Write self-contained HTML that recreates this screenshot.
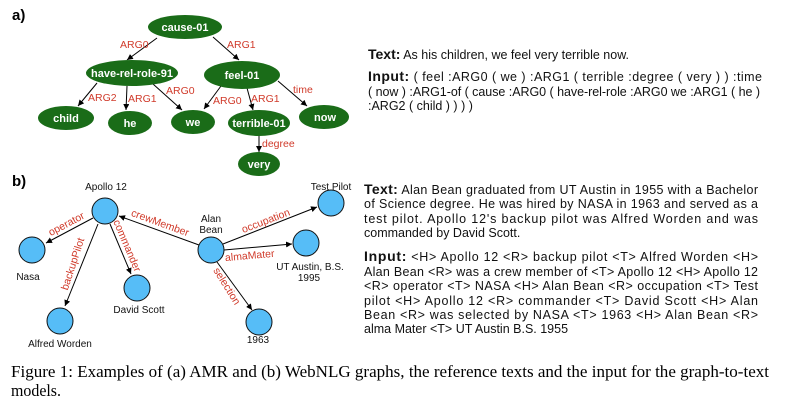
<!DOCTYPE html>
<html><head><meta charset="utf-8">
<style>
html,body{margin:0;padding:0;background:#fff;}
svg{display:block;}
.nl{font-family:"Liberation Sans",Arial,sans-serif;font-weight:bold;font-size:11px;fill:#fff;text-anchor:middle;}
.el{font-family:"Liberation Sans",Arial,sans-serif;font-size:10.5px;fill:#d03a2a;}
.cl{font-family:"Liberation Sans",Arial,sans-serif;font-size:10px;fill:#111;text-anchor:middle;}
.tx{font-family:"Liberation Sans",Arial,sans-serif;font-size:12.5px;fill:#111;}
.cap{font-family:"Liberation Serif","Times New Roman",serif;font-size:16.5px;fill:#000;}
</style></head><body>
<svg width="799" height="406" viewBox="0 0 799 406" xmlns="http://www.w3.org/2000/svg">
<defs><marker id="ah" markerWidth="7" markerHeight="7" refX="6" refY="3" orient="auto"><path d="M0,0 L6,3 L0,6 Z" fill="#000"/></marker></defs>

<text x="12" y="20" font-family="Liberation Sans,Arial,sans-serif" font-weight="bold" font-size="15">a)</text>
<g stroke="#000" stroke-width="1" marker-end="url(#ah)">
<line x1="157" y1="38" x2="127" y2="60"/>
<line x1="213" y1="37" x2="239" y2="60"/>
<line x1="97" y1="83" x2="78" y2="106"/>
<line x1="127" y1="86" x2="126" y2="110"/>
<line x1="153" y1="84" x2="182" y2="110"/>
<line x1="221" y1="86" x2="204" y2="109"/>
<line x1="247" y1="88" x2="253" y2="110"/>
<line x1="278" y1="81" x2="307" y2="106"/>
<line x1="259" y1="136" x2="259" y2="152"/>
</g>
<g fill="#1a6c18">
<ellipse cx="185" cy="27" rx="37" ry="12"/>
<ellipse cx="132" cy="73" rx="46" ry="13"/>
<ellipse cx="242" cy="75" rx="38" ry="14"/>
<ellipse cx="66" cy="118" rx="28" ry="12"/>
<ellipse cx="130" cy="123" rx="22" ry="12"/>
<ellipse cx="193" cy="122" rx="22" ry="12"/>
<ellipse cx="259" cy="123" rx="31" ry="13"/>
<ellipse cx="324" cy="117" rx="25" ry="12"/>
<ellipse cx="259" cy="164" rx="21" ry="12"/>
</g>
<g>
<text class="nl" x="185" y="31">cause-01</text>
<text class="nl" x="132" y="77">have-rel-role-91</text>
<text class="nl" x="242" y="79">feel-01</text>
<text class="nl" x="66" y="122">child</text>
<text class="nl" x="130" y="127">he</text>
<text class="nl" x="193" y="126">we</text>
<text class="nl" x="259" y="127">terrible-01</text>
<text class="nl" x="325" y="121">now</text>
<text class="nl" x="259" y="168">very</text>
</g>
<g>
<text class="el" x="120" y="48">ARG0</text>
<text class="el" x="227" y="48">ARG1</text>
<text class="el" x="88" y="101">ARG2</text>
<text class="el" x="128" y="102">ARG1</text>
<text class="el" x="166" y="94">ARG0</text>
<text class="el" x="213" y="104">ARG0</text>
<text class="el" x="251" y="102">ARG1</text>
<text class="el" x="293" y="93">time</text>
<text class="el" x="262" y="147">degree</text>
</g>

<text x="12" y="186" font-family="Liberation Sans,Arial,sans-serif" font-weight="bold" font-size="15">b)</text>
<g stroke="#000" stroke-width="1" marker-end="url(#ah)">
<line x1="93" y1="218" x2="46" y2="243"/>
<line x1="98" y1="224" x2="65" y2="306"/>
<line x1="110" y1="224" x2="131" y2="274"/>
<line x1="199" y1="245" x2="119" y2="216"/>
<line x1="223" y1="244" x2="317" y2="207"/>
<line x1="224" y1="250" x2="292" y2="244"/>
<line x1="217" y1="262" x2="252" y2="310"/>
</g>
<g fill="#56bdf7" stroke="#111" stroke-width="1">
<circle cx="105" cy="211" r="13"/>
<circle cx="32" cy="250" r="13"/>
<circle cx="60" cy="321" r="13"/>
<circle cx="137" cy="288" r="13"/>
<circle cx="211" cy="250" r="13"/>
<circle cx="331" cy="203" r="13"/>
<circle cx="306" cy="243" r="13"/>
<circle cx="259" cy="322" r="13"/>
</g>
<g>
<text class="cl" x="106" y="190">Apollo 12</text>
<text class="cl" x="28" y="280">Nasa</text>
<text class="cl" x="60" y="347">Alfred Worden</text>
<text class="cl" x="139" y="313">David Scott</text>
<text class="cl" x="211" y="222">Alan</text>
<text class="cl" x="211" y="233">Bean</text>
<text class="cl" x="331" y="190">Test Pilot</text>
<text class="cl" x="310" y="270">UT Austin, B.S.</text>
<text class="cl" x="309" y="281">1995</text>
<text class="cl" x="258" y="343">1963</text>
</g>
<g text-anchor="middle">
<text class="el" transform="translate(159,226) rotate(20)">crewMember</text>
<text class="el" transform="translate(68,227) rotate(-28)">operator</text>
<text class="el" transform="translate(76,265) rotate(-72)">backupPilot</text>
<text class="el" transform="translate(124,247) rotate(67)">commander</text>
<text class="el" transform="translate(267,224) rotate(-21)">occupation</text>
<text class="el" transform="translate(250,259) rotate(-5)">almaMater</text>
<text class="el" transform="translate(224,288) rotate(58)">selection</text>
</g>

<g>
<text class="tx" x="368" y="59"><tspan font-weight="bold" font-size="14">Text:</tspan> As his children, we feel very terrible now.</text>
<text class="tx" x="368" y="81" textLength="394" lengthAdjust="spacing"><tspan font-weight="bold" font-size="14">Input:</tspan> ( feel :ARG0 ( we ) :ARG1 ( terrible :degree ( very ) ) :time</text>
<text class="tx" x="368" y="96" textLength="392" lengthAdjust="spacing">( now ) :ARG1-of ( cause :ARG0 ( have-rel-role :ARG0 we :ARG1 ( he )</text>
<text class="tx" x="368" y="110">:ARG2 ( child ) ) ) )</text>
</g>
<g>
<text class="tx" x="364" y="194" textLength="394" lengthAdjust="spacing"><tspan font-weight="bold" font-size="14">Text:</tspan> Alan Bean graduated from UT Austin in 1955 with a Bachelor</text>
<text class="tx" x="364" y="208" textLength="394" lengthAdjust="spacing">of Science degree. He was hired by NASA in 1963 and served as a</text>
<text class="tx" x="364" y="223" textLength="394" lengthAdjust="spacing">test pilot. Apollo 12's backup pilot was Alfred Worden and was</text>
<text class="tx" x="364" y="237">commanded by David Scott.</text>
<text class="tx" x="364" y="261" textLength="394" lengthAdjust="spacing"><tspan font-weight="bold" font-size="14">Input:</tspan> &lt;H&gt; Apollo 12 &lt;R&gt; backup pilot &lt;T&gt; Alfred Worden &lt;H&gt;</text>
<text class="tx" x="364" y="276" textLength="394" lengthAdjust="spacing">Alan Bean &lt;R&gt; was a crew member of &lt;T&gt; Apollo 12 &lt;H&gt; Apollo 12</text>
<text class="tx" x="364" y="290" textLength="394" lengthAdjust="spacing">&lt;R&gt; operator &lt;T&gt; NASA &lt;H&gt; Alan Bean &lt;R&gt; occupation &lt;T&gt; Test</text>
<text class="tx" x="364" y="305" textLength="394" lengthAdjust="spacing">pilot &lt;H&gt; Apollo 12 &lt;R&gt; commander &lt;T&gt; David Scott &lt;H&gt; Alan</text>
<text class="tx" x="364" y="319" textLength="394" lengthAdjust="spacing">Bean &lt;R&gt; was selected by NASA &lt;T&gt; 1963 &lt;H&gt; Alan Bean &lt;R&gt;</text>
<text class="tx" x="364" y="333">alma Mater &lt;T&gt; UT Austin B.S. 1955</text>
</g>
<g>
<text class="cap" x="11" y="377" textLength="758" lengthAdjust="spacingAndGlyphs">Figure 1: Examples of (a) AMR and (b) WebNLG graphs, the reference texts and the input for the graph-to-text</text>
<text class="cap" x="11" y="396" textLength="50" lengthAdjust="spacingAndGlyphs">models.</text>
</g>
</svg>
</body></html>
